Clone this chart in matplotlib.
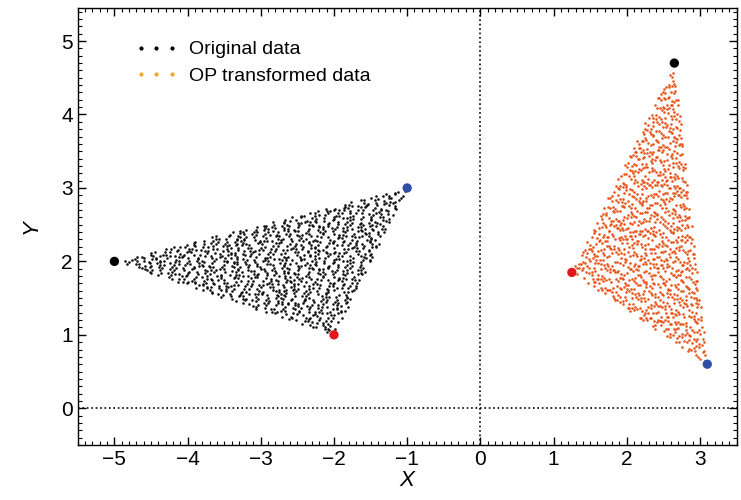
import numpy as np
import matplotlib
matplotlib.use("Agg")
import matplotlib.pyplot as plt
from matplotlib.lines import Line2D
from matplotlib.ticker import MultipleLocator

plt.rcParams['font.family'] = ['Liberation Sans', 'DejaVu Sans']

# Triangle vertices (black, blue, red)
orig_vertices_x = [-5.0, -1.0, -2.0]
orig_vertices_y = [2.0, 3.0, 1.0]
trans_vertices_x = [2.65, 3.1, 1.25]
trans_vertices_y = [4.7, 0.6, 1.85]
vertex_colors = ['black', '#2f4ea6', '#e3161b']
n_points = 1100

x_ticks = [-5, -4, -3, -2, -1, 0, 1, 2, 3]
y_ticks = [0, 1, 2, 3, 4, 5]


def halton(n, base, skip=17):
    out = np.zeros(n)
    for i in range(n):
        f, r, k = 1.0, 0.0, i + skip
        while k > 0:
            f /= base
            r += f * (k % base)
            k //= base
        out[i] = r
    return out


# Deterministic low-discrepancy (Halton) fill of the original triangle
u = halton(n_points, 2)
v = halton(n_points, 3)
flip = u + v > 1
u[flip], v[flip] = 1 - u[flip], 1 - v[flip]
P0 = np.array([orig_vertices_x[0], orig_vertices_y[0]])
P1 = np.array([orig_vertices_x[1], orig_vertices_y[1]])
P2 = np.array([orig_vertices_x[2], orig_vertices_y[2]])
pts = P0 + np.outer(u, P1 - P0) + np.outer(v, P2 - P0)

# Transformation mapping original vertices onto transformed vertices
A = np.column_stack([orig_vertices_x, orig_vertices_y, np.ones(3)])
Bx = np.linalg.solve(A, trans_vertices_x)
By = np.linalg.solve(A, trans_vertices_y)
H = np.column_stack([pts, np.ones(len(pts))])
tx, ty = H @ Bx, H @ By

fig = plt.figure(figsize=(7.41, 5.0), dpi=100)
ax = fig.add_axes([0.105, 0.11, 0.889, 0.874])

ax.axhline(0, color='black', ls=':', lw=1.2, zorder=1)
ax.axvline(0, color='black', ls=':', lw=1.2, zorder=1)

ax.scatter(pts[:, 0], pts[:, 1], s=3.5, color='#111111', lw=0, zorder=2)
ax.scatter(tx, ty, s=3.5, color='#e8561c', lw=0, zorder=2)

ax.scatter(orig_vertices_x, orig_vertices_y, s=45, c=vertex_colors, lw=0, zorder=3)
ax.scatter(trans_vertices_x, trans_vertices_y, s=45, c=vertex_colors, lw=0, zorder=3)

ax.set_xlim(-5.5, 3.5)
ax.set_ylim(-0.5, 5.45)
ax.set_xticks(x_ticks)
ax.set_yticks(y_ticks)
ax.set_xticklabels(['\u2212' + str(-t) if t < 0 else str(t) for t in x_ticks])
ax.xaxis.set_minor_locator(MultipleLocator(0.1))
ax.yaxis.set_minor_locator(MultipleLocator(0.1))
ax.tick_params(which='both', direction='in', top=True, right=True, labelsize=15)
ax.tick_params(which='major', length=6, width=1)
ax.tick_params(which='minor', length=3, width=0.8)
for sp in ax.spines.values():
    sp.set_linewidth(1)
ax.set_xlabel('X', fontsize=16, style='italic', labelpad=1)
ax.set_ylabel('Y', fontsize=16, style='italic', labelpad=14)

handles = [
    Line2D([], [], ls='none', marker='.', color='black', markersize=4),
    Line2D([], [], ls='none', marker='.', color='#f5a623', markersize=4),
]
ax.legend(handles, ['Original data', 'OP transformed data'], loc='upper left',
          frameon=False, numpoints=3, fontsize=14, bbox_to_anchor=(0.06, 0.965),
          handlelength=2.2, handletextpad=0.6, labelspacing=0.45)

fig.savefig('out.png', dpi=100)
